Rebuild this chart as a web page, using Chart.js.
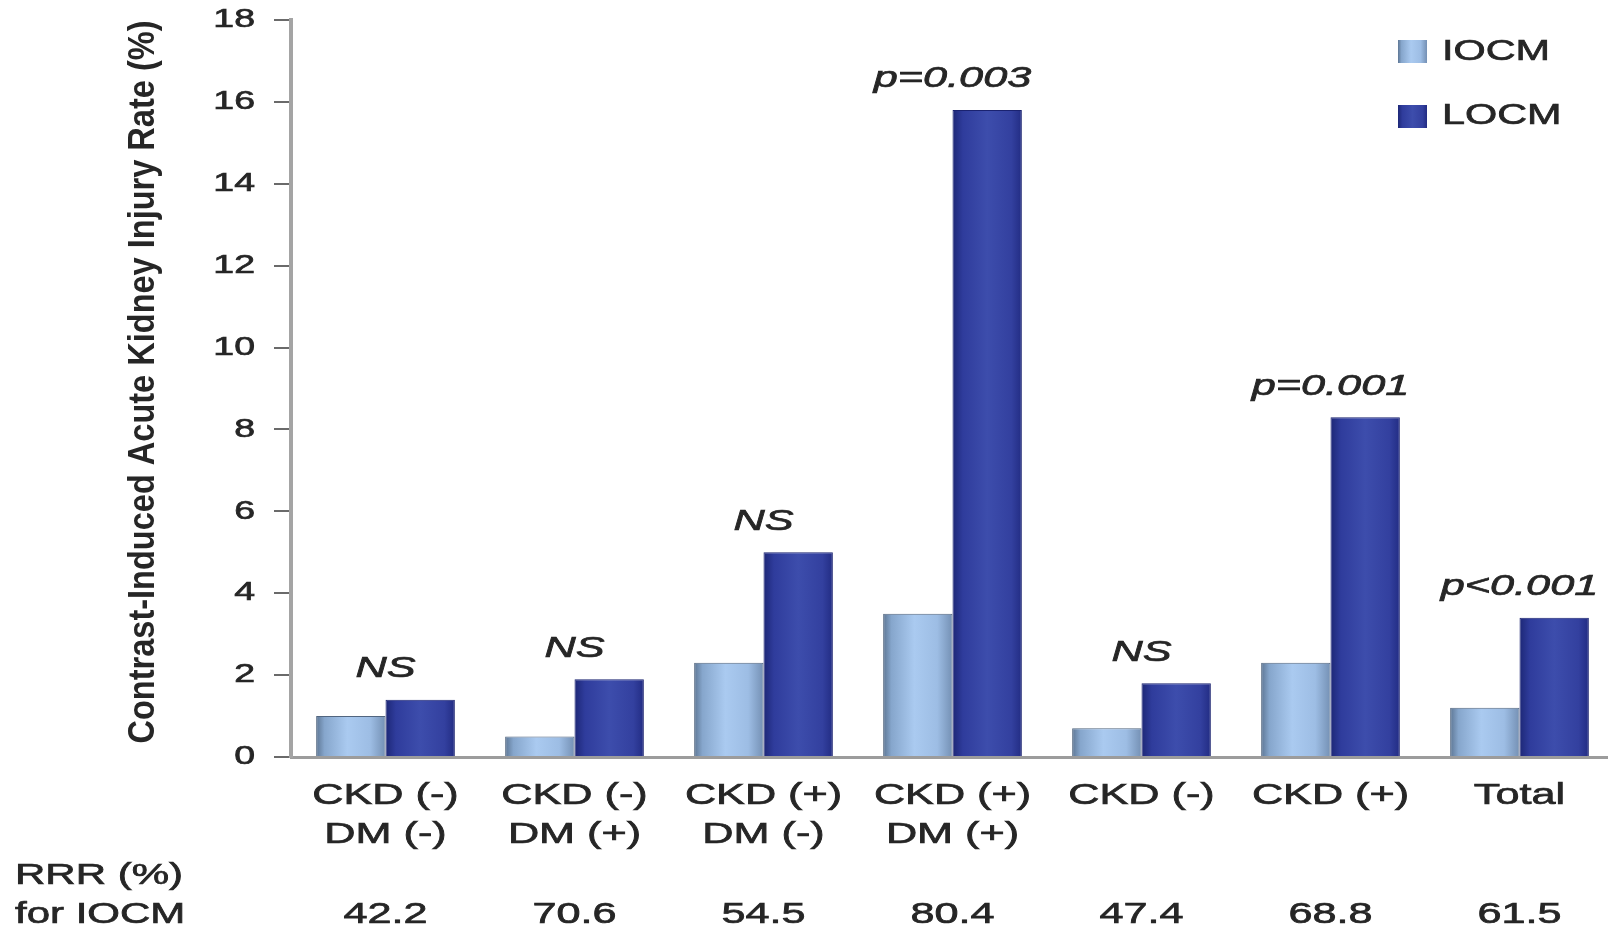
<!DOCTYPE html>
<html>
<head>
<meta charset="utf-8">
<script src="https://cdn.jsdelivr.net/npm/chart.js@4/dist/chart.umd.min.js"></script>
<style>
  html, body { margin: 0; padding: 0; background: #ffffff; overflow: hidden; }
  #wrap { width: 1608px; height: 928px; overflow: hidden; }
  canvas { display: block; }
</style>
</head>
<body>
<div id="wrap"><canvas id="c" width="1614" height="928"></canvas></div>
<script>
// ---- data ----
const categories = [
  ['CKD (-)', 'DM (-)'],
  ['CKD (-)', 'DM (+)'],
  ['CKD (+)', 'DM (-)'],
  ['CKD (+)', 'DM (+)'],
  ['CKD (-)'],
  ['CKD (+)'],
  ['Total']
];
const seriesNames = ['IOCM', 'LOCM'];
const iocmValues = [1.0, 0.5, 2.3, 3.5, 0.7, 2.3, 1.2];
const locmValues = [1.4, 1.9, 5.0, 15.8, 1.8, 8.3, 3.4];
const significance = ['NS', 'NS', 'NS', 'p=0.003', 'NS', 'p=0.001', 'p<0.001'];
const rrrValues = ['42.2', '70.6', '54.5', '80.4', '47.4', '68.8', '61.5'];
const rrrRowLabels = ['RRR (%)', 'for IOCM'];
const yTickValues = [0, 2, 4, 6, 8, 10, 12, 14, 16, 18];
const yTitle = 'Contrast-Induced Acute Kidney Injury Rate (%)';

// ---- style ----
const FONT = '"Liberation Sans", Arial, sans-serif';
const TXT = '#262626';
const SX = 1.44;           // horizontal stretch of the reference artwork
const CAT_PCT = 0.734;

const iocmStops = [[0, '#5d7694'], [0.12, '#86a6cc'], [0.45, '#aacaf0'], [0.78, '#9dbde4'], [1, '#7490b4']];
const locmStops = [[0, '#1d2776'], [0.15, '#2f3c9c'], [0.5, '#3d4dac'], [0.85, '#33409f'], [1, '#222c83']];

function barGrad(c, dsIndex) {
  const chart = c.chart;
  const xs = chart.scales && chart.scales.x;
  const fallback = dsIndex === 0 ? '#9dbde4' : '#33409f';
  if (!xs || c.dataIndex === undefined || !chart.chartArea || xs.width === undefined) return fallback;
  const cw = xs.getPixelForValue(1) - xs.getPixelForValue(0);
  if (!isFinite(cw) || cw <= 0) return fallback;
  const bw = cw * CAT_PCT / 2;
  const cx = xs.getPixelForValue(c.dataIndex);
  const left = dsIndex === 0 ? cx - bw : cx;
  const g = chart.ctx.createLinearGradient(left, 0, left + bw, 0);
  (dsIndex === 0 ? iocmStops : locmStops).forEach(s => g.addColorStop(s[0], s[1]));
  return g;
}

function sText(ctx, str, x, y, font, align, sx) {
  ctx.save();
  ctx.translate(x, y);
  ctx.scale(sx, 1);
  ctx.font = font;
  ctx.textAlign = align;
  ctx.textBaseline = 'middle';
  ctx.fillStyle = TXT;
  ctx.strokeStyle = TXT;
  ctx.lineWidth = 0.7;
  ctx.fillText(str, 0, 0);
  ctx.strokeText(str, 0, 0);
  ctx.restore();
}

const textPlugin = {
  id: 'textPlugin',
  afterDraw(chart) {
    const ctx = chart.ctx;
    const xs = chart.scales.x, ys = chart.scales.y;
    // y tick labels
    yTickValues.forEach(v => {
      sText(ctx, String(v), 255, ys.getPixelForValue(v), '26px ' + FONT, 'right', SX);
    });
    // category labels
    categories.forEach((lines, i) => {
      const cx = xs.getPixelForValue(i);
      lines.forEach((ln, j) => {
        sText(ctx, ln, cx, 796 + j * 39, '30px ' + FONT, 'center', SX);
      });
    });
    // RRR row
    sText(ctx, rrrRowLabels[0], 15, 876, '30px ' + FONT, 'left', 1.40);
    sText(ctx, rrrRowLabels[1], 15, 915, '30px ' + FONT, 'left', 1.40);
    rrrValues.forEach((v, i) => {
      sText(ctx, v, xs.getPixelForValue(i), 915, '30px ' + FONT, 'center', SX);
    });
    // significance annotations
    significance.forEach((s, i) => {
      const top = Math.max(iocmValues[i], locmValues[i]);
      const y = ys.getPixelForValue(top) - 31;
      sText(ctx, s, xs.getPixelForValue(i), y, 'italic 30px ' + FONT, 'center', SX);
    });
    // legend
    const legendRows = [[40, iocmStops, 52], [105, locmStops, 116]];
    seriesNames.forEach((name, k) => {
      const [sy, stops, ty] = legendRows[k];
      const g = ctx.createLinearGradient(1398, 0, 1427, 0);
      stops.forEach(s => g.addColorStop(s[0], s[1]));
      ctx.fillStyle = g;
      ctx.fillRect(1398, sy, 29, 23);
      sText(ctx, name, 1442, ty, '30px ' + FONT, 'left', 1.38);
    });
    // y axis title (rotated)
    ctx.save();
    ctx.translate(144, 382);
    ctx.rotate(-Math.PI / 2);
    ctx.font = 'bold 28px ' + FONT;
    const w = ctx.measureText(yTitle).width;
    ctx.scale(723 / w, 1.3);
    ctx.textAlign = 'center';
    ctx.textBaseline = 'middle';
    ctx.fillStyle = TXT;
    ctx.fillText(yTitle, 0, 0);
    ctx.restore();
  }
};

new Chart(document.getElementById('c'), {
  type: 'bar',
  data: {
    labels: categories,
    datasets: [
      {
        label: seriesNames[0],
        data: iocmValues,
        backgroundColor: c => barGrad(c, 0),
        borderColor: '#51657f',
        borderWidth: 1,
        borderSkipped: 'bottom',
        categoryPercentage: CAT_PCT,
        barPercentage: 1.0
      },
      {
        label: seriesNames[1],
        data: locmValues,
        backgroundColor: c => barGrad(c, 1),
        borderColor: '#1a2270',
        borderWidth: 1,
        borderSkipped: 'bottom',
        categoryPercentage: CAT_PCT,
        barPercentage: 1.0
      }
    ]
  },
  options: {
    responsive: false,
    animation: false,
    layout: { padding: { top: 20, right: 0, left: 0, bottom: 0 } },
    plugins: { legend: { display: false }, tooltip: { enabled: false }, title: { display: false } },
    scales: {
      x: {
        grid: { display: false },
        border: { display: true, color: '#9c9c9c', width: 3 },
        ticks: { display: false },
        afterFit: s => { s.height = 171; }
      },
      y: {
        min: 0,
        max: 18,
        ticks: { display: false, stepSize: 2 },
        grid: { display: true, drawOnChartArea: false, drawTicks: true, tickLength: 17, tickColor: '#6a6a6a', lineWidth: 2 },
        border: { display: true, color: '#a4a4a4', width: 4 },
        afterFit: s => { s.width = 291; }
      }
    }
  },
  plugins: [textPlugin]
});
</script>
</body>
</html>
